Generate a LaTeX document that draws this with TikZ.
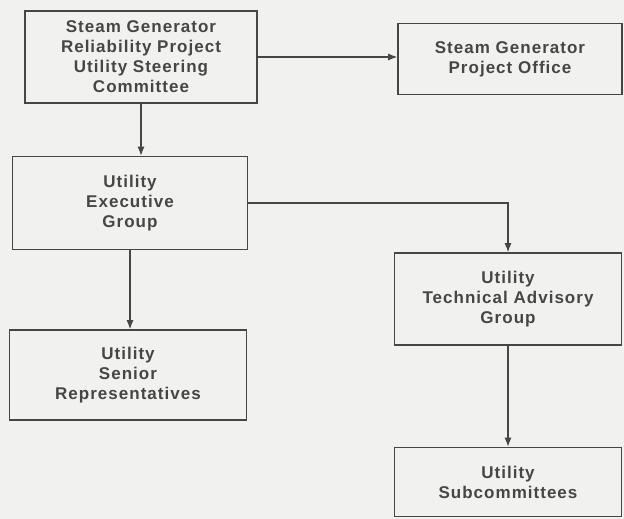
\documentclass[tikz,border=0pt]{standalone}
\usepackage{fontspec}
\setmainfont{Liberation Sans}[LetterSpace=6]
\usepackage{xcolor}
\usetikzlibrary{arrows.meta,positioning}
\definecolor{paper}{RGB}{241,241,239}
\definecolor{ink}{RGB}{70,70,70}

\begin{document}
\begin{tikzpicture}[x=1pt, y=-1pt,
    every node/.style={draw=ink, rectangle, line width=1.6pt, text=ink, align=center,
        font=\fontsize{17}{20}\selectfont\bfseries, inner sep=2pt},
    link/.style={draw=ink, line width=1.1pt, -{Latex[length=9pt,width=7pt]}}]
                \fill[paper] (0,0) rectangle (624,519);
                \useasboundingbox (0,0) rectangle (624,519);

                % Top level
                \node[minimum width=232pt, minimum height=92pt] (steer) at (141,57)
                    {Steam Generator\\Reliability Project\\Utility Steering\\Committee};
                \node[minimum width=224pt, minimum height=71pt] (office) at (510,59)
                    {Steam Generator\\Project Office};

                % Executive level
                \node[minimum width=235pt, minimum height=93pt] (exec) at (130,203)
                    {Utility\\Executive\\Group};
                \node[minimum width=227pt, minimum height=92pt] (tag) at (508,299)
                    {Utility\\Technical Advisory\\Group};

                % Lower level
                \node[minimum width=237pt, minimum height=90pt] (senior) at (128,375)
                    {Utility\\Senior\\Representatives};
                \node[minimum width=227pt, minimum height=69pt] (subc) at (508,482)
                    {Utility\\Subcommittees};

                % Connectors
                \draw[link] (steer.east) -- (steer.east -| office.west);
                \draw[link] (steer.south) -- (steer.south |- exec.north);
                \draw[link] (exec.east) -| (tag.north);
                \draw[link] (exec.south) -- (exec.south |- senior.north);
                \draw[link] (tag.south) -- (subc.north);
            \end{tikzpicture}
\end{document}
